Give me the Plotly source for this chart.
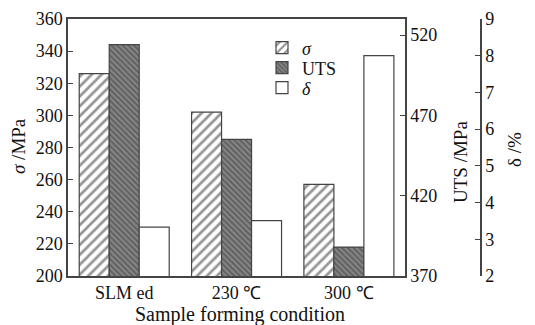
import plotly.graph_objects as go

categories = ["SLM ed", "230 ℃", "300 ℃"]
sigma = [326, 302, 257]
uts = [514, 455, 388]
delta = [3.33, 3.51, 8.0]

FONT = "Liberation Serif"
TXT = "#111111"
LINE = "#444444"
W = 0.267

# page offset caused by the default body margin
O = 8
FW, FH = 535 - O, 325 - O

# plot area in page pixels
PL, PR, PT, PB = 68, 405, 19, 276
L = PL - O
T = PT - O
B = FH - (PB - O)
R = 42
pw = FW - L - R
ph = FH - T - B
xd = (PR - PL) / pw


def px(x):
    return (x - O - L) / pw


def py(y):
    return (FH - B - (y - O)) / ph


fig = go.Figure()
fig.add_trace(go.Bar(
    x=categories, y=sigma, name="<i>σ</i>", yaxis="y", legend="legend",
    width=W, offset=-0.4,
    marker=dict(color="white", line=dict(color=LINE, width=1.2),
                pattern=dict(shape="/", fgcolor="#2a2a2a", bgcolor="white", size=7, solidity=0.38)),
))
fig.add_trace(go.Bar(
    x=categories, y=uts, name="UTS", yaxis="y2", legend="legend2",
    width=W, offset=-0.4 + W,
    marker=dict(color="#808080", line=dict(color=LINE, width=1.2),
                pattern=dict(shape="\\", fgcolor="#333333", bgcolor="#858585", size=4, solidity=0.45)),
))
fig.add_trace(go.Bar(
    x=categories, y=delta, name="<i>δ</i>", yaxis="y3", legend="legend3",
    width=W, offset=-0.4 + 2 * W,
    marker=dict(color="white", line=dict(color=LINE, width=1.2)),
))

axis_common = dict(showline=True, linecolor=LINE, linewidth=1.5, ticks="inside",
                   ticklen=5, tickcolor=LINE, showgrid=False, zeroline=False,
                   tickfont=dict(family=FONT, size=18, color=TXT),
                   automargin=False)

title_font = dict(family=FONT, size=19, color=TXT)
leg_font = dict(family=FONT, size=18, color=TXT)


def leg(yc):
    return dict(x=px(262), y=py(yc), xanchor="left", yanchor="middle", font=leg_font,
                bgcolor="rgba(0,0,0,0)", itemwidth=30)


fig.update_layout(
    width=FW, height=FH,
    margin=dict(l=L, r=R, t=T, b=B, autoexpand=False),
    paper_bgcolor="white", plot_bgcolor="white",
    barmode="overlay",
    showlegend=True,
    legend=leg(48), legend2=leg(68), legend3=leg(88),
    xaxis=dict(domain=[0, xd], range=[-0.5, 2.5], showline=True, linecolor=LINE, linewidth=1.5,
               mirror=True, ticks="", showgrid=False,
               tickfont=dict(family=FONT, size=18, color=TXT),
               automargin=False),
    yaxis=dict(range=[200, 360], dtick=20, **axis_common),
    yaxis2=dict(range=[370, 530], tickvals=[370, 420, 470, 520], overlaying="y", side="right",
                anchor="x", **axis_common),
    yaxis3=dict(range=[2, 9], dtick=1, overlaying="y", side="right", anchor="free", position=px(481),
                **axis_common),
    annotations=[
        dict(text="<i>σ</i> /MPa", x=px(18), y=py(146), xref="paper", yref="paper",
             textangle=-90, showarrow=False, font=title_font, xanchor="center", yanchor="middle"),
        dict(text="UTS /MPa", x=px(460), y=py(162), xref="paper", yref="paper",
             textangle=-90, showarrow=False, font=title_font, xanchor="center", yanchor="middle"),
        dict(text="δ /%", x=px(514), y=py(149), xref="paper", yref="paper",
             textangle=-90, showarrow=False, font=title_font, xanchor="center", yanchor="middle"),
        dict(text="Sample forming condition", x=px(240), y=py(314), xref="paper", yref="paper",
             showarrow=False, font=dict(family=FONT, size=20, color=TXT),
             xanchor="center", yanchor="middle"),
    ],
)

fig.write_html("out.html")
